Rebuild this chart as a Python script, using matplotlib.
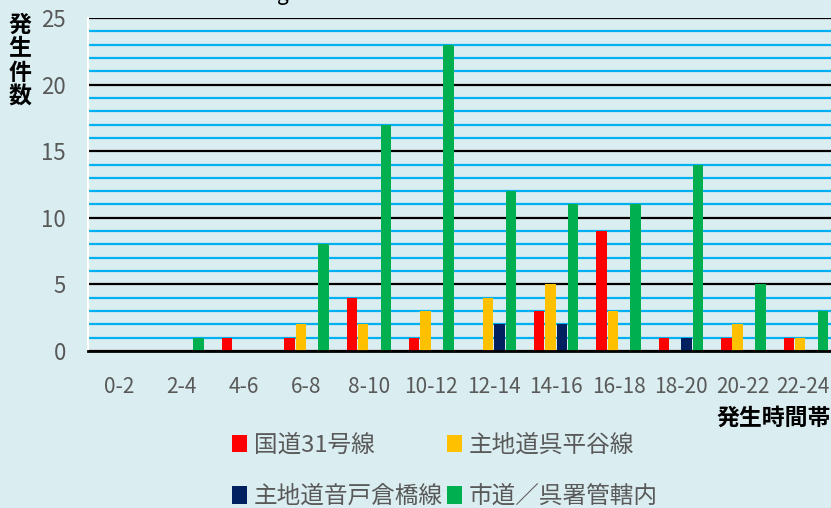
import numpy as np
import matplotlib.pyplot as plt
import matplotlib.transforms as mtransforms
from matplotlib.ticker import MultipleLocator

plt.rcParams['font.family'] = ['Noto Sans CJK JP', 'DejaVu Sans']

# data
time_bands = ["0-2", "2-4", "4-6", "6-8", "8-10", "10-12",
              "12-14", "14-16", "16-18", "18-20", "20-22", "22-24"]
route31 = [0, 0, 1, 1, 4, 1, 0, 3, 9, 1, 1, 1]
kure_hiratani = [0, 0, 0, 2, 2, 3, 4, 5, 3, 0, 2, 1]
ondo_kurahashi = [0, 0, 0, 0, 0, 0, 2, 2, 0, 1, 0, 0]
city_roads = [0, 1, 0, 8, 17, 23, 12, 11, 11, 14, 5, 3]

series_names = ["国道31号線", "主地道呉平谷線", "主地道音戸倉橋線", "市道／呉署管轄内"]
colors = ["#FF0000", "#FFC000", "#002060", "#00B050"]
bg = "#DAEDF0"

fig = plt.figure(figsize=(8.31, 5.08), dpi=100, facecolor=bg)
ax = fig.add_axes([88 / 831, 1 - 351 / 508, 749 / 831, 333 / 508])
ax.set_facecolor(bg)

x = np.arange(len(time_bands))
step = 0.182
width = 0.168
for i, (vals, name, c) in enumerate(zip([route31, kure_hiratani, ondo_kurahashi, city_roads],
                                        series_names, colors)):
    ax.bar(x + (i - 1.5) * step, vals, width, color=c, label=name, zorder=3)

ax.set_xlim(-0.5, len(time_bands) - 0.5)
ax.set_ylim(0, 25)
ax.yaxis.set_major_locator(MultipleLocator(5))
ax.yaxis.set_minor_locator(MultipleLocator(1))
ax.grid(which='minor', axis='y', color='#00B0F0', linewidth=1.6, zorder=1)
ax.grid(which='major', axis='y', color='black', linewidth=1.6, zorder=2)
ax.grid(False, axis='x')

for s in ['top', 'right']:
    ax.spines[s].set_visible(False)
ax.spines['left'].set_color('white')
ax.spines['left'].set_linewidth(1.5)
ax.spines['bottom'].set_color('black')
ax.spines['bottom'].set_linewidth(2)
ax.spines['bottom'].set_zorder(4)

ax.set_xticks(x)
ax.set_xticklabels(time_bands)
ax.tick_params(axis='both', length=0, colors='#595959')
ax.tick_params(axis='y', pad=16, labelsize=16)
ax.tick_params(axis='x', pad=18, labelsize=15)
ax.tick_params(which='minor', length=0)
# nudge the last label a little left so it stays inside the picture
last = ax.get_xticklabels()[-1]
last.set_transform(last.get_transform() + mtransforms.ScaledTranslation(-3 / 100, 0, fig.dpi_scale_trans))

# vertical y label, one character per line
for k, ch in enumerate("発生件数"):
    fig.text(20 / 831, 1 - (25 + 24 * k) / 508, ch, ha='center', va='center',
             fontsize=16.5, fontweight='bold', color='black')
fig.text(831 / 831, 1 - 418 / 508, "発生時間帯", ha='right', va='center',
         fontsize=16.5, fontweight='bold', color='black')
fig.text(283 / 831, 1.0, "g", ha='center', va='baseline', fontsize=15, color='black')

handles, labels = ax.get_legend_handles_labels()
order = [0, 2, 1, 3]
leg = fig.legend([handles[i] for i in order], [labels[i] for i in order],
                 loc='center', ncol=2, bbox_to_anchor=(445 / 831, 1 - 471 / 508),
                 frameon=False, fontsize=17, handlelength=0.62, handleheight=0.75,
                 handletextpad=0.3, columnspacing=0.17, labelspacing=1.2,
                 labelcolor='#595959', borderpad=0)

fig.savefig("out.png", dpi=100, facecolor=bg)
